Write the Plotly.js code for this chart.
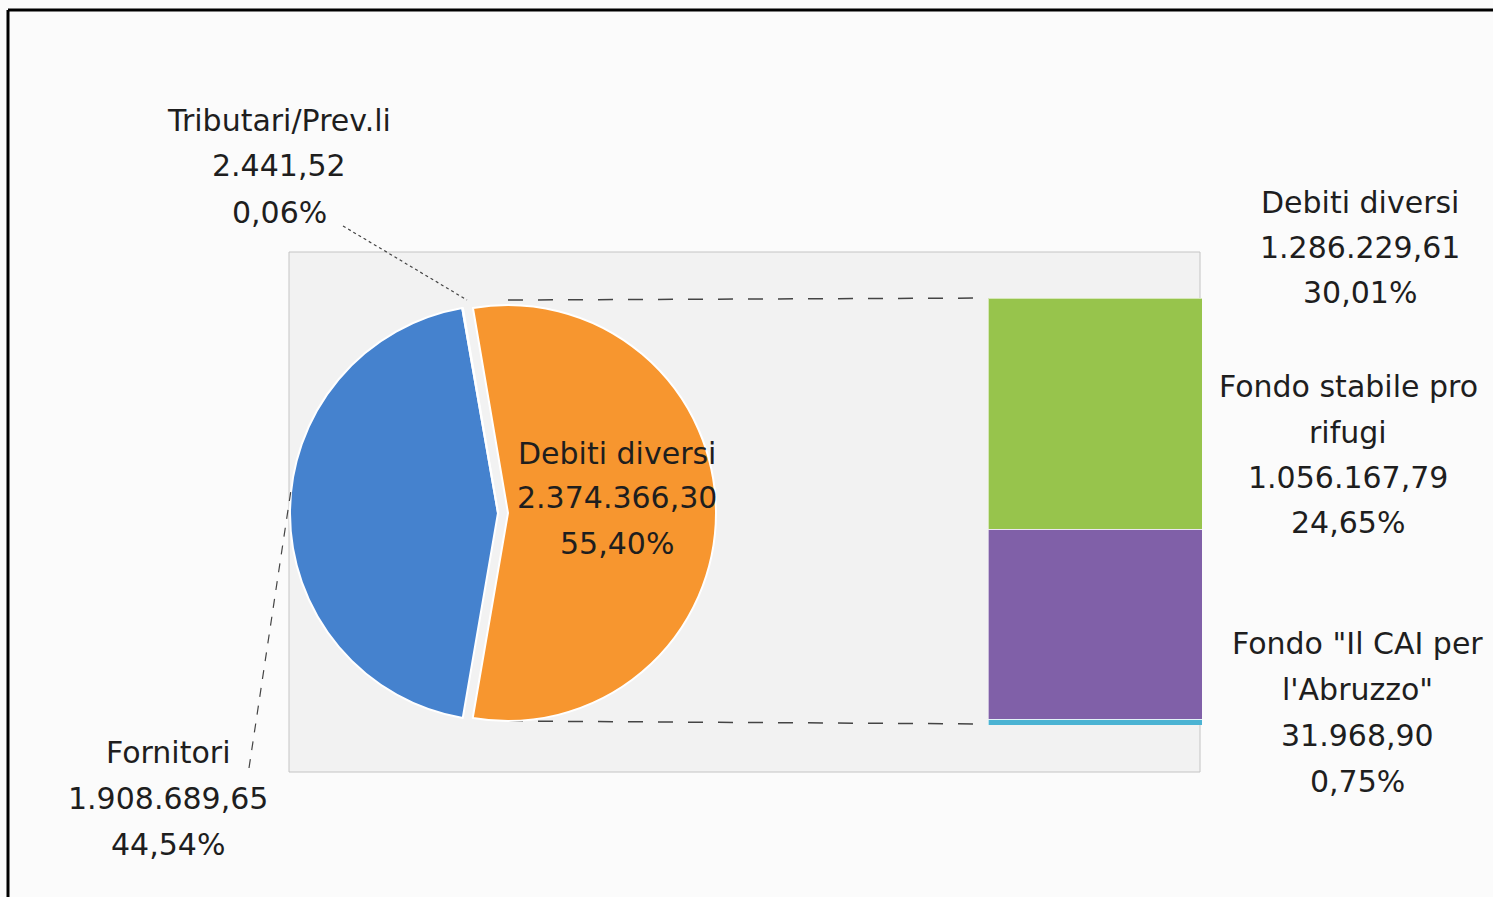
<!DOCTYPE html>
<html><head><meta charset="utf-8">
<script src="https://cdn.plot.ly/plotly-3.0.1.min.js"></script>
<style>html,body{margin:0;padding:0;background:#fbfbfb}</style>
</head><body><div id="chart" style="width:1493px;height:897px"></div>
<script>
// ---- data ----
const pieLabels = ["Debiti diversi", "Fornitori", "Tributari/Prev.li"];
const pieValues = [2374366.30, 1908689.65, 2441.52];
const barLabels = ["Fondo \"Il CAI per l'Abruzzo\"", "Fondo stabile pro rifugi", "Debiti diversi"];
const barValues = [31968.90, 1056167.79, 1286229.61];
const pieColors = ["#f7962f", "#4582ce", "#8fbf4a"];
const barColors = ["#4bb3d3", "#8060a8", "#97c44c"];

// ---- helpers ----
const W = 1493, H = 897;
const px = x => x / W;
const py = y => 1 - y / H;
const FONT = "DejaVu Sans";
const total = pieValues.reduce((a, b) => a + b, 0);
const barTotal = barValues.reduce((a, b) => a + b, 0);
function fmtNum(v) {
  const [i, d] = v.toFixed(2).split(".");
  return i.replace(/\B(?=(\d{3})+(?!\d))/g, ".") + "," + d;
}
function fmtPct(v) { return (v / total * 100).toFixed(2).replace(".", ",") + "%"; }
function wrap(s, n) {
  const words = s.split(" "); const out = []; let cur = "";
  words.forEach(w => {
    if (cur && (cur + " " + w).length > n) { out.push(cur); cur = w; }
    else cur = cur ? cur + " " + w : w;
  });
  if (cur) out.push(cur);
  return out;
}
const annotations = [];
function addLabel(name, value, cx, y0, step) {
  const lines = wrap(name, 17).concat([fmtNum(value), fmtPct(value)]);
  lines.forEach((t, i) => annotations.push({
    x: px(cx), y: py(y0 + i * step), xref: "paper", yref: "paper",
    text: t, showarrow: false, xanchor: "center", yanchor: "middle",
    font: { family: FONT, size: 30, color: "#1e1e1e" }
  }));
}
addLabel(pieLabels[2], pieValues[2], 279, 120, 46);
addLabel(pieLabels[1], pieValues[1], 168, 752, 46);
addLabel(pieLabels[0], pieValues[0], 617, 453, 45);
addLabel(barLabels[2], barValues[2], 1360, 202, 45.5);
addLabel(barLabels[1], barValues[1], 1348, 387, 45);
addLabel(barLabels[0], barValues[0], 1357, 643, 46);

// ---- traces ----
const traces = [{
  type: "pie", labels: pieLabels, values: pieValues, sort: false,
  direction: "clockwise", rotation: -9.7, pull: [0.048, 0, 0],
  marker: { colors: pieColors, line: { color: "#ffffff", width: 2 } },
  textinfo: "none", hoverinfo: "label+value+percent", showlegend: false,
  domain: { x: [px(280), px(716)], y: [py(731), py(295)] }
}];
barValues.forEach((v, i) => traces.push({
  type: "bar", x: [0], y: [v], width: [1], name: barLabels[i],
  marker: { color: barColors[i], line: { color: "rgba(255,255,255,0.6)", width: 1 } },
  showlegend: false, xaxis: "x", yaxis: "y"
}));

const shapes = [
  { type: "rect", xref: "paper", yref: "paper", x0: px(289), x1: px(1200), y0: py(772), y1: py(252),
    fillcolor: "#f2f2f2", line: { color: "#c4c4c4", width: 1 }, layer: "below" },
  { type: "line", xref: "paper", yref: "paper", x0: px(8), x1: px(1493), y0: py(10), y1: py(10),
    line: { color: "#000", width: 3 } },
  { type: "line", xref: "paper", yref: "paper", x0: px(8), x1: px(8), y0: py(10), y1: py(897),
    line: { color: "#000", width: 3 } },
  { type: "line", xref: "paper", yref: "paper", x0: px(508), x1: px(988), y0: py(300), y1: py(298),
    line: { color: "#444", width: 1.5, dash: "longdash" }, layer: "below" },
  { type: "line", xref: "paper", yref: "paper", x0: px(508), x1: px(988), y0: py(721), y1: py(724),
    line: { color: "#444", width: 1.5, dash: "longdash" }, layer: "below" },
  { type: "line", xref: "paper", yref: "paper", x0: px(343), x1: px(467), y0: py(226), y1: py(300),
    line: { color: "#444", width: 1.2, dash: "dot" } },
  { type: "line", xref: "paper", yref: "paper", x0: px(249), x1: px(291), y0: py(768), y1: py(490),
    line: { color: "#444", width: 1.2, dash: "dash" } }
];

const layout = {
  width: W, height: H, margin: { l: 0, r: 0, t: 0, b: 0 },
  paper_bgcolor: "#fbfbfb", plot_bgcolor: "rgba(0,0,0,0)",
  separators: ",.", barmode: "stack", bargap: 0,
  xaxis: { domain: [px(988), px(1202)], range: [-0.5, 0.5], visible: false, fixedrange: true },
  yaxis: { domain: [py(725), py(298)], range: [0, barTotal], visible: false, fixedrange: true },
  shapes: shapes, annotations: annotations, showlegend: false
};
Plotly.newPlot("chart", traces, layout, { displayModeBar: false, staticPlot: true });
</script></body></html>
